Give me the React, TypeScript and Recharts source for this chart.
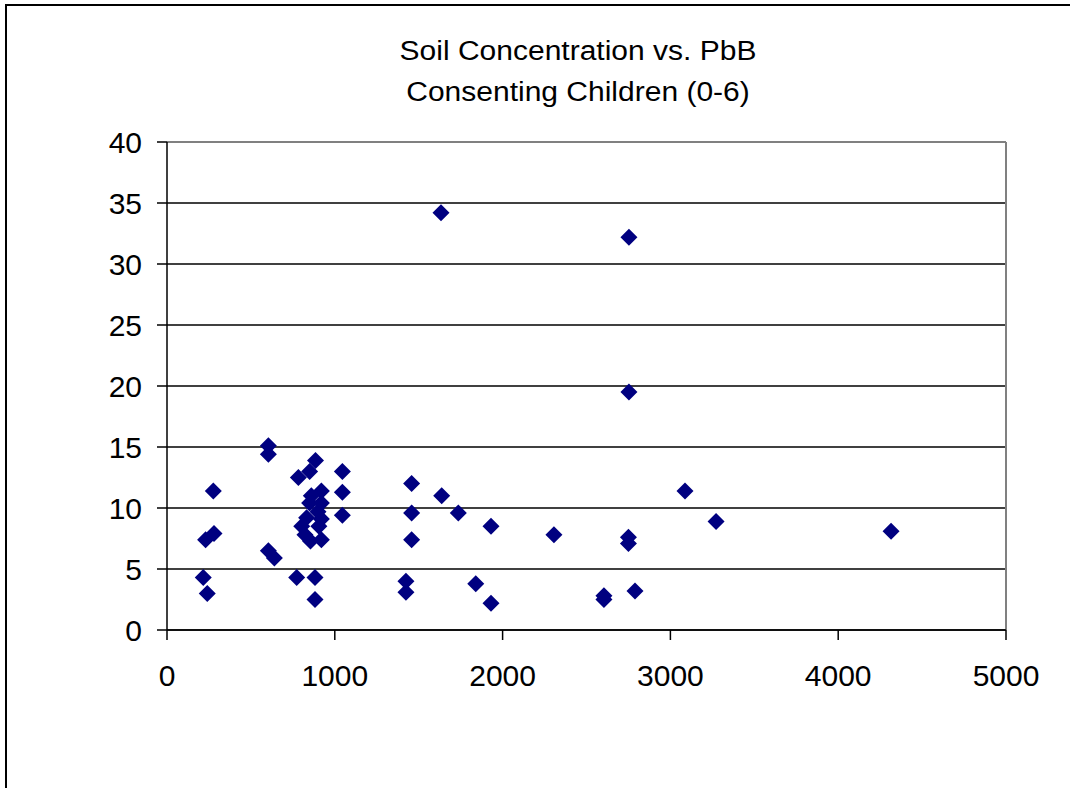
import { CartesianGrid, ReferenceLine, Scatter, ScatterChart, XAxis, YAxis } from "recharts";

// soil lead concentration (ppm) and blood lead (PbB, ug/dL)
const soil = [
  230, 280, 276, 216, 240, 604, 604, 604, 640, 773, 783, 850, 885, 1045, 1045, 1045, 920, 860, 850, 920, 900, 920, 832, 803, 905,
  822, 855, 920, 882, 882, 1458, 1637, 1458, 1736, 1931, 2306, 1458, 1424, 1424, 1840, 1931, 1633, 2753, 2753, 3087, 3272, 4315,
  2750, 2750, 2789, 2604, 2604,
];
const pbb = [
  7.4, 7.9, 11.4, 4.3, 3.0, 15.1, 14.4, 6.5, 5.9, 4.3, 12.5, 13.0, 13.9, 13.0, 11.3, 9.4, 11.4, 11.0, 10.4, 10.4, 9.7, 9.1, 9.2,
  8.5, 8.5, 7.8, 7.3, 7.4, 4.3, 2.5, 12.0, 11.0, 9.6, 9.6, 8.5, 7.8, 7.4, 4.0, 3.1, 3.8, 2.2, 34.2, 32.2, 19.5, 11.4, 8.9, 8.1,
  7.6, 7.1, 3.2, 2.8, 2.5,
];
const xTicks = [0, 1000, 2000, 3000, 4000, 5000];
const yTicks = [0, 5, 10, 15, 20, 25, 30, 35, 40];

const points = soil.map((x, i) => ({ x, y: pbb[i] }));

const font = "'Liberation Sans', Arial, sans-serif";
const tick = { fill: "#000", fontSize: 30, fontFamily: font };

function Diamond(props: any) {
  const { cx, cy } = props;
  const r = 8.5;
  return <polygon points={`${cx},${cy - r} ${cx + r},${cy} ${cx},${cy + r} ${cx - r},${cy}`} fill="#000080" />;
}

export default function App() {
  return (
    <div style={{ position: "absolute", left: 0, top: 0, width: 1070, height: 788, background: "#fff", overflow: "hidden" }}>
      <div style={{ position: "absolute", left: 5, top: 4, width: 1070, height: 800, borderLeft: "2px solid #000", borderTop: "2px solid #000" }} />
      <div
        style={{
          position: "absolute",
          left: 0,
          top: 26,
          width: 1156,
          textAlign: "center",
          fontFamily: font,
          fontSize: 30,
          lineHeight: "45px",
          color: "#000",
          transform: "scaleY(0.9)",
        }}
      >
        Soil Concentration vs. PbB
        <br />
        Consenting Children (0-6)
      </div>
      <div style={{ position: "absolute", left: 0, top: 0 }}>
        <ScatterChart width={1070} height={788} margin={{ top: 142, right: 64, bottom: 98, left: 0 }}>
          <CartesianGrid vertical={false} stroke="#000" strokeWidth={1.3} />
          <XAxis
            type="number"
            dataKey="x"
            domain={[0, 5000]}
            ticks={xTicks}
            interval={0}
            tick={tick}
            tickSize={10}
            tickMargin={25}
            height={60}
            stroke="#000"
            strokeWidth={1.5}
          />
          <YAxis
            type="number"
            dataKey="y"
            domain={[0, 40]}
            ticks={yTicks}
            interval={0}
            tick={tick}
            tickSize={10}
            tickMargin={15}
            width={167}
            stroke="#000"
            strokeWidth={1.5}
          />
          <ReferenceLine y={40} stroke="#808080" strokeWidth={2} />
          <ReferenceLine x={5000} stroke="#808080" strokeWidth={2} />
          <Scatter data={points} shape={Diamond} isAnimationActive={false} />
        </ScatterChart>
      </div>
    </div>
  );
}
